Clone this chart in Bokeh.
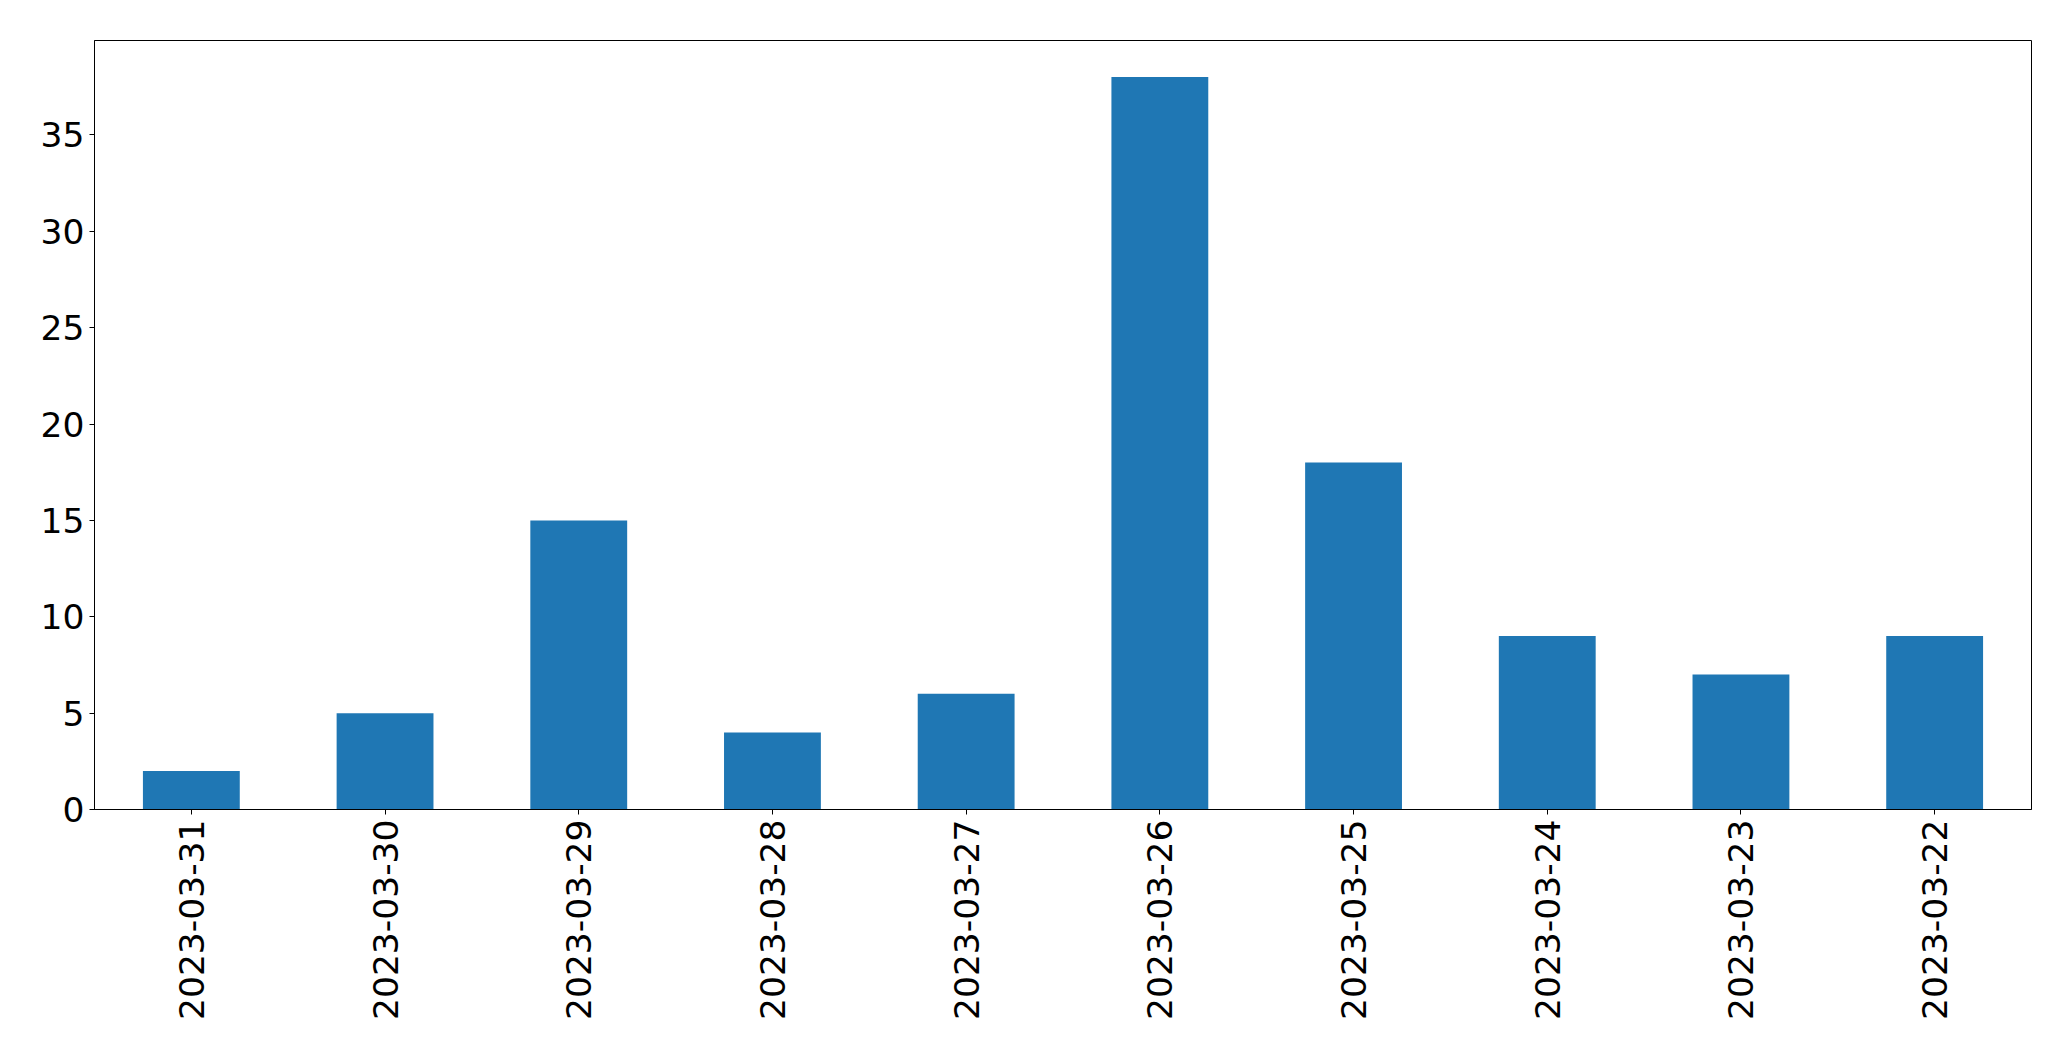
from bokeh.plotting import figure
from bokeh.models import FactorRange, Range1d, FixedTicker, ColumnDataSource
from bokeh.embed import file_html
from bokeh.resources import INLINE
import math

dates = ["2023-03-31", "2023-03-30", "2023-03-29", "2023-03-28", "2023-03-27",
         "2023-03-26", "2023-03-25", "2023-03-24", "2023-03-23", "2023-03-22"]
counts = [2, 5, 15, 4, 6, 38, 18, 9, 7, 9]
y_ticks = [0, 5, 10, 15, 20, 25, 30, 35]

source = ColumnDataSource(data=dict(date=dates, count=counts))

p = figure(
    width=2063, height=1053,
    x_range=FactorRange(factors=dates),
    y_range=Range1d(0, max(counts) * 1.05),
    output_backend="svg", toolbar_location=None,
    min_border_left=94, min_border_right=32, min_border_top=40, min_border_bottom=244,
)

p.vbar(x="date", top="count", width=0.5, source=source, color="#1f77b4", line_color=None)

p.xgrid.visible = False
p.ygrid.visible = False
p.outline_line_color = "black"
p.outline_line_width = 1
p.background_fill_color = "white"
p.border_fill_color = "white"

p.yaxis.ticker = FixedTicker(ticks=y_ticks)
p.yaxis.minor_tick_line_color = None

for ax in (p.xaxis[0], p.yaxis[0]):
    ax.axis_line_color = "black"
    ax.axis_line_width = 1
    ax.major_tick_line_color = "black"
    ax.major_tick_line_width = 1
    ax.major_tick_in = 0
    ax.major_tick_out = 5
    ax.major_label_text_font = "DejaVu Sans"
    ax.major_label_text_font_size = "34.5px"
    ax.major_label_text_color = "black"

p.yaxis.major_label_standoff = 5
p.xaxis.major_label_standoff = 5
p.xaxis.major_label_orientation = math.pi / 2

open("out.html", "w").write(file_html(p, INLINE))
